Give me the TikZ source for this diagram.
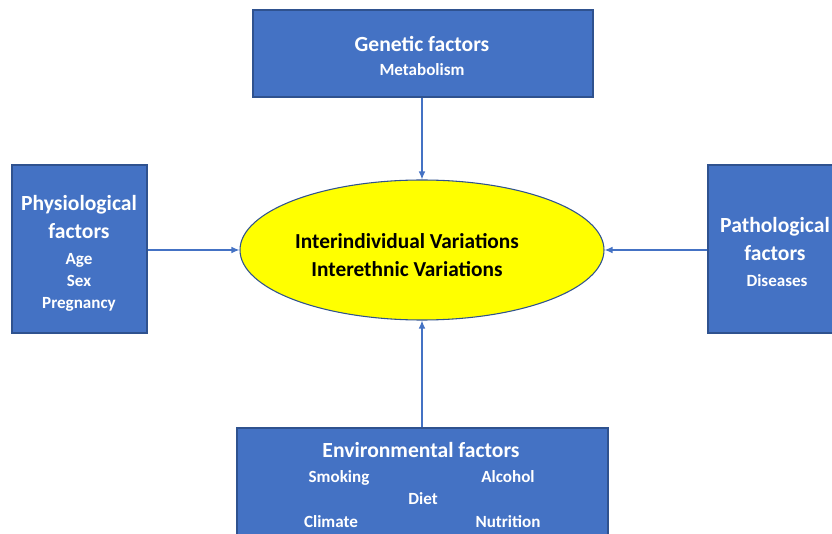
\documentclass[tikz,border=0pt]{standalone}
\usepackage{fontspec}
\setmainfont{Carlito}
\usepackage{tikz}
\usetikzlibrary{arrows.meta}
\usetikzlibrary{positioning}
\usetikzlibrary{shapes.geometric}
\definecolor{boxblue}{HTML}{4472C4}
\definecolor{edgeblue}{HTML}{2F528F}
\definecolor{centreyellow}{HTML}{FFFF00}
\tikzset{>=latex}
\tikzstyle{factor} = [rectangle, draw = edgeblue, fill = boxblue, line width = 0.8pt, inner sep = 0]
\tikzstyle{head} = [draw = none, inner sep = 0, text = white, text height = 0.7em, text depth = 0pt, font = \bfseries\fontsize{16.2}{19}\selectfont]
\tikzstyle{item} = [draw = none, inner sep = 0, text = white, text height = 0.7em, text depth = 0pt, font = \bfseries\fontsize{12.8}{15}\selectfont]
\tikzstyle{variation} = [draw = none, inner sep = 0, text = black, text height = 0.7em, text depth = 0pt, font = \bfseries\fontsize{16}{19}\selectfont]
\tikzstyle{link} = [-{Latex[length = 6pt, width = 5pt]}, draw = boxblue, line width = 0.9pt]

\begin{document}
\begin{tikzpicture}[x = 0.75pt, y = -0.75pt]
\useasboundingbox (0, 0) rectangle (832, 534);
% boxes and centre
\node [factor, minimum width = 255pt, minimum height = 65.25pt] (genetic) at (423, 53.5) {};
\node [factor, minimum width = 101.25pt, minimum height = 126pt] (physio) at (79.5, 249) {};
\node [factor, minimum width = 101.25pt, minimum height = 126pt] (patho) at (775.5, 249) {};
\node [factor, minimum width = 278.25pt, minimum height = 97.5pt] (environ) at (422.5, 493) {};
\node [ellipse, draw = edgeblue, fill = centreyellow, line width = 0.8pt, inner sep = 0, minimum width = 273pt, minimum height = 105pt] (variations) at (422, 250) {};

% texts
\node [head] (genetictitle) at (422, 46.5) {Genetic factors};
\node [item] (metabolism) at (422, 70.5) {Metabolism};

\node [head] (physiotitle) at (79, 205.5) {Physiological};
\node [head] (physiotitleb) at (79, 233.5) {factors};
\node [item] (age) at (79, 259.5) {Age};
\node [item] (sex) at (79, 281.5) {Sex};
\node [item] (pregnancy) at (79, 303.5) {Pregnancy};

\node [head] (pathotitle) at (775, 227.5) {Pathological};
\node [head] (pathotitleb) at (775, 255.5) {factors};
\node [item] (diseases) at (777, 281.5) {Diseases};

\node [head] (environtitle) at (421, 452.5) {Environmental factors};
\node [item] (smoking) at (339, 477.5) {Smoking};
\node [item] (alcohol) at (508, 477.5) {Alcohol};
\node [item] (diet) at (423, 499.5) {Diet};
\node [item] (climate) at (331, 522.5) {Climate};
\node [item] (nutrition) at (508, 522.5) {Nutrition};

\node [variation] (interindividual) at (407, 243.5) {Interindividual Variations};
\node [variation] (interethnic) at (407, 271.5) {Interethnic Variations};

% arrows
\draw [link] (genetic.south -| variations.north) -- (variations.north);
\draw [link] (physio.east |- variations.west) -- (variations.west);
\draw [link] (patho.west |- variations.east) -- (variations.east);
\draw [link] (environ.north -| variations.south) -- (variations.south);
\end{tikzpicture}
\end{document}
